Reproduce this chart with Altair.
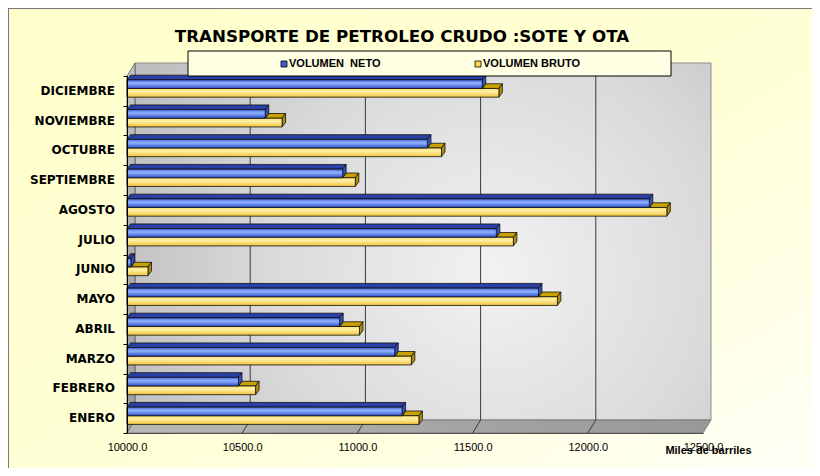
import altair as alt
import pandas as pd

# ---------------- data ----------------
meses = ["ENERO", "FEBRERO", "MARZO", "ABRIL", "MAYO", "JUNIO", "JULIO",
         "AGOSTO", "SEPTIEMBRE", "OCTUBRE", "NOVIEMBRE", "DICIEMBRE"]
volumen_neto = [11194, 10484, 11162, 10923, 11786, 10017, 11603, 12267, 10936, 11304, 10600, 11542]
volumen_bruto = [11267, 10558, 11234, 11009, 11868, 10091, 11677, 12343, 10991, 11365, 10673, 11614]
series = ["VOLUMEN\u00a0\u00a0NETO", "VOLUMEN BRUTO"]
x_ticks = [10000.0, 10500.0, 11000.0, 11500.0, 12000.0, 12500.0]
titulo = "TRANSPORTE DE PETROLEO CRUDO :SOTE Y OTA"
eje_x = "Miles de barriles"

# ---------------- layout ----------------
W, H = 576, 357
PAD = {"left": 119, "top": 68, "right": 109, "bottom": 35}
X0, X1 = x_ticks[0], x_ticks[-1]
N = len(meses)
UX = (X1 - X0) / W      # data units per px (x)
UY = N / H              # data units per px (y)
WALL_DX, WALL_DY = 8, 13
F_TOP, B_TOP, MID, Y_BOT = 15.7, 11.0, 2.4, -6.3   # px above band centre
DX = 3.5
DY = F_TOP - B_TOP

xscale = alt.Scale(domain=[X0, X1], nice=False, zero=False)
yscale = alt.Scale(domain=[0, N], nice=False, zero=False)

x_axis = alt.Axis(values=x_ticks, format=".1f", labelFont="Liberation Sans", labelFontSize=11,
                  labelColor="black", ticks=False, domain=True, domainColor="#505050",
                  grid=False, labelPadding=8, labelOverlap=False, labelBound=False,
                  labelFlush=False, title=eje_x, titleFont="Liberation Sans",
                  titleFontSize=11, titleFontWeight="bold", titleColor="black",
                  titleX=581, titleY=17, titleAlign="center", titleBaseline="middle",
                  zindex=2)
y_axis = alt.Axis(values=list(range(N + 1)), labels=False, ticks=True, tickSize=4,
                  tickColor="black", domain=True, domainColor="black", grid=False,
                  title=None, zindex=2)

bars = pd.DataFrame({"mes": meses, "neto": volumen_neto, "bruto": volumen_bruto})
bars["c"] = [i + 0.5 for i in range(N)]
bars["x0"] = X0
bars["b_y1"] = bars["c"] + MID * UY
bars["b_y2"] = bars["c"] + B_TOP * UY
bars["y_y1"] = bars["c"] + Y_BOT * UY
bars["y_y2"] = bars["c"] + MID * UY

# top / side faces (parallelograms) built from the values
bt, bs, yt, ys = [], [], [], []
for _, r in bars.iterrows():
    c, n, b = r["c"], r["neto"], r["bruto"]
    bt += [{"mes": r["mes"], "y": c + B_TOP * UY, "xa": X0, "xb": n},
           {"mes": r["mes"], "y": c + F_TOP * UY, "xa": X0 + DX * UX, "xb": n + DX * UX}]
    bs += [{"mes": r["mes"], "x": n, "ya": c + MID * UY, "yb": c + B_TOP * UY},
           {"mes": r["mes"], "x": n + DX * UX, "ya": c + (MID + DY) * UY, "yb": c + F_TOP * UY}]
    yt += [{"mes": r["mes"], "y": c + MID * UY, "xa": n, "xb": b},
           {"mes": r["mes"], "y": c + (MID + DY) * UY, "xa": n + DX * UX, "xb": b + DX * UX}]
    ys += [{"mes": r["mes"], "x": b, "ya": c + Y_BOT * UY, "yb": c + MID * UY},
           {"mes": r["mes"], "x": b + DX * UX, "ya": c + (Y_BOT + DY) * UY, "yb": c + (MID + DY) * UY}]
bt, bs, yt, ys = map(pd.DataFrame, (bt, bs, yt, ys))

dummy = pd.DataFrame({"a": [0]})
inner_ticks = pd.DataFrame({"v": x_ticks[1:-1]})

STROKE = "#111111"
SW = 0.8


def X(f):
    return alt.X(f, scale=xscale, axis=x_axis)


def Y(f):
    return alt.Y(f, scale=yscale, axis=y_axis)


def grad_v(stops):
    return alt.Gradient(gradient="linear", x1=0, y1=0, x2=0, y2=1,
                        stops=[alt.GradientStop(color=c, offset=o) for o, c in stops])


# ---------------- decoration ----------------
background = alt.Chart(dummy).mark_rect(
    color=alt.Gradient(gradient="linear", x1=0, y1=0, x2=1, y2=1,
                       stops=[alt.GradientStop(color="#FFFFCC", offset=0),
                              alt.GradientStop(color="#FFFFD6", offset=0.55),
                              alt.GradientStop(color="#FFFFF6", offset=1)])
).encode(x=alt.value(-PAD["left"]), x2=alt.value(W + PAD["right"]),
         y=alt.value(-PAD["top"]), y2=alt.value(H + PAD["bottom"]))

border_left = alt.Chart(dummy).mark_rule(color="#7a7a7a", strokeWidth=1).encode(
    x=alt.value(-PAD["left"] + 0.5), y=alt.value(-PAD["top"]), y2=alt.value(H + PAD["bottom"]))
border_top = alt.Chart(dummy).mark_rule(color="#7a7a7a", strokeWidth=1).encode(
    x=alt.value(-PAD["left"]), x2=alt.value(W + PAD["right"]), y=alt.value(-PAD["top"] + 0.5))

back_wall = alt.Chart(dummy).mark_rect(
    color=alt.RadialGradient(gradient="radial", x1=0.62, y1=0.55, x2=0.62, y2=0.55, r1=0, r2=0.7,
                             stops=[alt.GradientStop(color="#F2F2F2", offset=0),
                                    alt.GradientStop(color="#DADADA", offset=0.55),
                                    alt.GradientStop(color="#BDBDBD", offset=1)]),
    stroke="#8c8c8c", strokeWidth=1
).encode(x=alt.value(WALL_DX), x2=alt.value(W + WALL_DX),
         y=alt.value(-WALL_DY), y2=alt.value(H - WALL_DY))

wall_grid = alt.Chart(inner_ticks).mark_rule(color="#3a3a3a", strokeWidth=1, xOffset=WALL_DX).encode(
    x=X("v:Q"), y=alt.value(-WALL_DY), y2=alt.value(H - WALL_DY))

left_wall_df = pd.DataFrame({"x": [X0, X0 + WALL_DX * UX],
                             "ya": [0, WALL_DY * UY], "yb": [N, N + WALL_DY * UY]})
left_wall = alt.Chart(left_wall_df).mark_area(
    orient="vertical", color=grad_v([(0, "#C4C4C4"), (1, "#9C9C9C")]),
    stroke="#555555", strokeWidth=0.8
).encode(x=X("x:Q"), y=Y("ya:Q"), y2="yb:Q")

floor_df = pd.DataFrame({"y": [0, WALL_DY * UY], "xa": [X0, X0 + WALL_DX * UX],
                         "xb": [X1, X1 + WALL_DX * UX]})
floor = alt.Chart(floor_df).mark_area(
    orient="horizontal",
    color=alt.Gradient(gradient="linear", x1=0, y1=0, x2=1, y2=0,
                       stops=[alt.GradientStop(color="#B8B8B8", offset=0),
                              alt.GradientStop(color="#A6A6A6", offset=0.5),
                              alt.GradientStop(color="#989898", offset=1)]),
    stroke="#707070", strokeWidth=0.8
).encode(y=Y("y:Q"), x=X("xa:Q"), x2="xb:Q")

floor_grid = alt.Chart(inner_ticks).mark_rule(color="#3a3a3a", strokeWidth=1, x2Offset=WALL_DX).encode(
    x=X("v:Q"), x2="v:Q", y=alt.value(H), y2=alt.value(H - WALL_DY))

# ---------------- bars ----------------
yel_top = alt.Chart(yt).mark_area(orient="horizontal", color="#C9A200", stroke=STROKE,
                                  strokeWidth=SW).encode(
    y=Y("y:Q"), x=X("xa:Q"), x2="xb:Q", detail="mes:N")
yel_side = alt.Chart(ys).mark_area(orient="vertical", color="#B08C00", stroke=STROKE,
                                   strokeWidth=SW).encode(
    x=X("x:Q"), y=Y("ya:Q"), y2="yb:Q", detail="mes:N")
yel_front = alt.Chart(bars).mark_rect(
    color=grad_v([(0, "#FFE170"), (0.35, "#FFF0A6"), (1, "#F0C23A")]),
    stroke=STROKE, strokeWidth=SW
).encode(x=X("x0:Q"), x2="bruto:Q", y=Y("y_y1:Q"), y2="y_y2:Q")

blue_top = alt.Chart(bt).mark_area(orient="horizontal", color="#2A40A6", stroke=STROKE,
                                   strokeWidth=SW).encode(
    y=Y("y:Q"), x=X("xa:Q"), x2="xb:Q", detail="mes:N")
blue_side = alt.Chart(bs).mark_area(orient="vertical", color="#3350BE", stroke=STROKE,
                                    strokeWidth=SW).encode(
    x=X("x:Q"), y=Y("ya:Q"), y2="yb:Q", detail="mes:N")
blue_front = alt.Chart(bars).mark_rect(
    color=grad_v([(0, "#4A6BE0"), (0.4, "#90B2FF"), (1, "#2E4EC6")]),
    stroke=STROKE, strokeWidth=SW
).encode(x=X("x0:Q"), x2="neto:Q", y=Y("b_y1:Q"), y2="b_y2:Q")

# ---------------- category labels ----------------
labels = alt.Chart(bars).mark_text(align="right", baseline="middle", font="DejaVu Sans",
                                   fontWeight="bold", fontSize=12, color="black").encode(
    x=alt.value(-12), y=Y("c:Q"), text="mes:N")

# ---------------- title & legend ----------------
title = alt.Chart(dummy).mark_text(text=titulo, font="DejaVu Sans", fontWeight="bold", fontSize=16.7,
                                   align="center", baseline="middle", color="black").encode(
    x=alt.value(275), y=alt.value(-39))

legend_box = alt.Chart(dummy).mark_rect(color="#FFFFE4", stroke="black", strokeWidth=1).encode(
    x=alt.value(61), x2=alt.value(544), y=alt.value(-25), y2=alt.value(0))
leg_sq1 = alt.Chart(dummy).mark_square(size=36, color="#3A5CD8", stroke="black", strokeWidth=0.8,
                                       opacity=1).encode(x=alt.value(157), y=alt.value(-12))
leg_sq2 = alt.Chart(dummy).mark_square(size=36, color="#FFD84A", stroke="black", strokeWidth=0.8,
                                       opacity=1).encode(x=alt.value(351), y=alt.value(-12))
leg_t1 = alt.Chart(dummy).mark_text(text=series[0], font="Liberation Sans", fontWeight="bold",
                                    fontSize=11, align="left", baseline="middle",
                                    color="black").encode(x=alt.value(162), y=alt.value(-12))
leg_t2 = alt.Chart(dummy).mark_text(text=series[1], font="Liberation Sans", fontWeight="bold",
                                    fontSize=11, align="left", baseline="middle",
                                    color="black").encode(x=alt.value(356), y=alt.value(-12))

chart = alt.layer(
    background, border_left, border_top, back_wall, wall_grid, left_wall, floor, floor_grid,
    yel_top, yel_side, yel_front, blue_top, blue_side, blue_front,
    labels, title, legend_box, leg_sq1, leg_sq2, leg_t1, leg_t2
).properties(
    width=W, height=H,
    autosize=alt.AutoSizeParams(type="none"),
    padding=PAD,
    background="#FFFFFF",
).configure_view(stroke=None)

chart.save("out.html", embed_options={"renderer": "svg", "actions": False})
